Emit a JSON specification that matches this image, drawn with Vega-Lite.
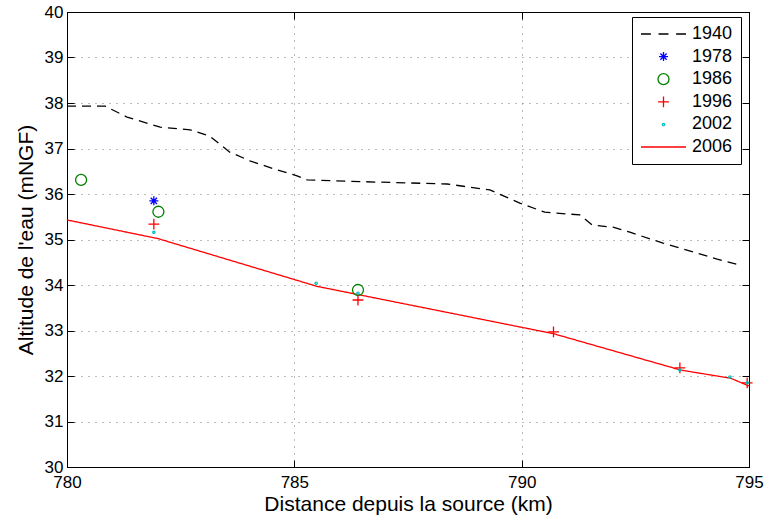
{
  "$schema": "https://vega.github.io/schema/vega-lite/v6.json",
  "width": 682,
  "height": 455,
  "autosize": {"type": "none"},
  "padding": {"left": 67, "top": 12, "right": 15, "bottom": 52},
  "background": "white",
  "config": {
    "font": "Liberation Sans",
    "view": {"stroke": "black", "strokeWidth": 1},
    "axis": {
      "labelFont": "Liberation Sans",
      "labelFontSize": 17,
      "labelColor": "black",
      "labelFlush": false,
      "labelOverlap": false,
      "titleFont": "Liberation Sans",
      "titleFontSize": 21,
      "titleFontWeight": "normal",
      "titleColor": "black",
      "domainColor": "black",
      "domainWidth": 1,
      "tickColor": "black",
      "tickWidth": 1,
      "tickSize": -7,
      "gridColor": "#555555",
      "gridDash": [1, 6],
      "gridWidth": 0.8
    },
    "legend": {
      "orient": "none",
      "legendX": 565,
      "legendY": 5,
      "strokeColor": "black",
      "fillColor": "white",
      "padding": 8,
      "labelFont": "Liberation Sans",
      "labelFontSize": 18,
      "labelColor": "black",
      "symbolStrokeWidth": 1.3,
      "symbolSize": 2025,
      "clipHeight": 18,
      "rowPadding": 4.6,
      "labelOffset": 5
    }
  },
  "layer": [
    {
      "data": {
        "values": [
          {"x": 780.0, "y": 37.93, "year": "1940"},
          {"x": 780.84, "y": 37.93, "year": "1940"},
          {"x": 781.32, "y": 37.69, "year": "1940"},
          {"x": 782.05, "y": 37.47, "year": "1940"},
          {"x": 782.71, "y": 37.41, "year": "1940"},
          {"x": 783.14, "y": 37.27, "year": "1940"},
          {"x": 783.58, "y": 36.92, "year": "1940"},
          {"x": 784.02, "y": 36.73, "year": "1940"},
          {"x": 784.62, "y": 36.53, "year": "1940"},
          {"x": 785.06, "y": 36.4, "year": "1940"},
          {"x": 785.28, "y": 36.31, "year": "1940"},
          {"x": 786.88, "y": 36.26, "year": "1940"},
          {"x": 788.36, "y": 36.22, "year": "1940"},
          {"x": 788.86, "y": 36.15, "year": "1940"},
          {"x": 789.3, "y": 36.09, "year": "1940"},
          {"x": 789.96, "y": 35.8, "year": "1940"},
          {"x": 790.51, "y": 35.6, "year": "1940"},
          {"x": 791.28, "y": 35.54, "year": "1940"},
          {"x": 791.55, "y": 35.32, "year": "1940"},
          {"x": 792.01, "y": 35.27, "year": "1940"},
          {"x": 792.38, "y": 35.16, "year": "1940"},
          {"x": 793.11, "y": 34.92, "year": "1940"},
          {"x": 793.86, "y": 34.7, "year": "1940"},
          {"x": 794.3, "y": 34.57, "year": "1940"},
          {"x": 794.8, "y": 34.44, "year": "1940"},
          {"x": 780.0, "y": 35.43, "year": "2006"},
          {"x": 782.0, "y": 35.02, "year": "2006"},
          {"x": 785.5, "y": 33.97, "year": "2006"},
          {"x": 790.7, "y": 32.93, "year": "2006"},
          {"x": 793.5, "y": 32.13, "year": "2006"},
          {"x": 794.6, "y": 31.95, "year": "2006"},
          {"x": 795.0, "y": 31.78, "year": "2006"}
        ]
      },
      "mark": {"type": "line", "strokeWidth": 1.3, "clip": true},
      "encoding": {
        "x": {
          "field": "x", "type": "quantitative",
          "scale": {"domain": [780, 795], "nice": false, "zero": false},
          "axis": {"orient": "bottom", "values": [780, 785, 790, 795], "grid": true, "title": "Distance depuis la source (km)", "labelPadding": 14, "titlePadding": 3}
        },
        "y": {
          "field": "y", "type": "quantitative",
          "scale": {"domain": [30, 40], "nice": false, "zero": false},
          "axis": {"orient": "left", "values": [30, 31, 32, 33, 34, 35, 36, 37, 38, 39, 40], "grid": true, "title": "Altitude de l'eau (mNGF)", "labelPadding": 11, "titlePadding": 8}
        },
        "color": {
          "field": "year", "type": "nominal", "title": null,
          "scale": {"domain": ["1940", "1978", "1986", "1996", "2002", "2006"], "range": ["#000000", "#0000ff", "#008000", "#ff0000", "#00bfbf", "#ff0000"]}
        },
        "strokeDash": {
          "field": "year", "type": "nominal", "legend": null,
          "scale": {"domain": ["1940", "2006"], "range": [[9, 6], [1, 0]]}
        }
      }
    },
    {
      "data": {
        "values": [
          {"x": 781.91, "y": 35.85, "year": "1978"},
          {"x": 780.31, "y": 36.31, "year": "1986"},
          {"x": 782.01, "y": 35.61, "year": "1986"},
          {"x": 786.4, "y": 33.89, "year": "1986"},
          {"x": 781.91, "y": 35.34, "year": "1996"},
          {"x": 786.4, "y": 33.67, "year": "1996"},
          {"x": 790.7, "y": 32.97, "year": "1996"},
          {"x": 793.48, "y": 32.18, "year": "1996"},
          {"x": 794.96, "y": 31.85, "year": "1996"},
          {"x": 781.91, "y": 35.16, "year": "2002"},
          {"x": 785.48, "y": 34.04, "year": "2002"},
          {"x": 786.4, "y": 33.82, "year": "2002"},
          {"x": 793.48, "y": 32.13, "year": "2002"},
          {"x": 794.58, "y": 31.98, "year": "2002"},
          {"x": 794.96, "y": 31.85, "year": "2002"}
        ]
      },
      "mark": {"type": "point", "filled": false, "strokeWidth": 1.3, "size": 2025, "opacity": 1},
      "encoding": {
        "x": {
          "field": "x", "type": "quantitative",
          "axis": {"orient": "top", "values": [780, 785, 790, 795], "grid": false, "labels": false, "title": null}
        },
        "y": {
          "field": "y", "type": "quantitative",
          "axis": {"orient": "right", "values": [30, 31, 32, 33, 34, 35, 36, 37, 38, 39, 40], "grid": false, "labels": false, "title": null}
        },
        "color": {
          "field": "year", "type": "nominal", "title": null,
          "scale": {"domain": ["1940", "1978", "1986", "1996", "2002", "2006"], "range": ["#000000", "#0000ff", "#008000", "#ff0000", "#00bfbf", "#ff0000"]}
        },
        "shape": {
          "field": "year", "type": "nominal", "title": null,
          "scale": {
            "domain": ["1940", "1978", "1986", "1996", "2002", "2006"],
            "range": [
              "M-1,0H-0.56M-0.22,0H0.22M0.56,0H1",
              "M-0.2,0H0.2M0,-0.2V0.2M-0.14,-0.14L0.14,0.14M-0.14,0.14L0.14,-0.14",
              "M0.244,0A0.244,0.244,0,1,1,-0.244,0A0.244,0.244,0,1,1,0.244,0Z",
              "M-0.24,0H0.24M0,-0.24V0.24",
              "M0.05,0A0.05,0.05,0,1,1,-0.05,0A0.05,0.05,0,1,1,0.05,0Z",
              "M-1,0H1"
            ]
          }
        }
      }
    }
  ],
  "resolve": {"axis": {"x": "independent", "y": "independent"}}
}
